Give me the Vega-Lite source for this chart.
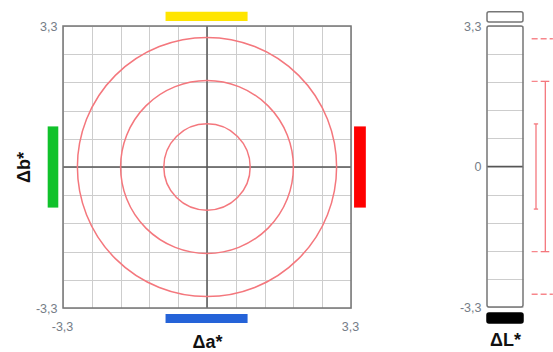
{
  "$schema": "https://vega.github.io/schema/vega-lite/v6.json",
  "padding": {"left": 15, "top": 10, "right": 0, "bottom": 0},
  "bounds": "flush",
  "spacing": 136,
  "config": {
    "font": "Liberation Sans",
    "axis": {
      "labelFont": "Liberation Sans",
      "labelFontSize": 12.5,
      "labelColor": "#767d87",
      "titleFont": "Liberation Sans",
      "titleFontSize": 18,
      "titleFontWeight": "bold",
      "titleColor": "#111111",
      "ticks": false,
      "domain": false,
      "gridColor": "#cdcdcd",
      "gridWidth": 1,
      "labelOverlap": false,
      "tickCount": 30
    }
  },
  "datasets": {
    "bars": [
      {"side": "+b", "x1": -0.95, "x2": 0.93, "y1": 3.417, "y2": 3.635},
      {"side": "-b", "x1": -0.95, "x2": 0.93, "y1": -3.44, "y2": -3.65},
      {"side": "-a", "x1": -3.408, "x2": -3.651, "y1": -0.95, "y2": 0.95},
      {"side": "+a", "x1": 3.37, "x2": 3.64, "y1": -0.95, "y2": 0.95}
    ],
    "zero": [{"v": 0}],
    "frame": [{"x1": -3.3, "x2": 3.3, "y1": -3.3, "y2": 3.3}],
    "circles": [
      {"cx": 0, "cy": 0, "r": 1},
      {"cx": 0, "cy": 0, "r": 2},
      {"cx": 0, "cy": 0, "r": 3}
    ],
    "boxes": [
      {"kind": "white", "x1": 0, "x2": 1, "y1": 3.394, "y2": 3.636},
      {"kind": "black", "x1": 0, "x2": 1, "y1": -3.441, "y2": -3.676}
    ],
    "lframe": [{"x1": 0, "x2": 1, "y1": -3.3, "y2": 3.3}],
    "ebars": [
      {"x": 1.361, "lo": -1, "hi": 1},
      {"x": 1.62, "lo": -2, "hi": 2}
    ],
    "caps": [
      {"a": 1.3, "b": 1.42, "y": 1},
      {"a": 1.3, "b": 1.42, "y": -1},
      {"a": 1.5, "b": 1.73, "y": 2},
      {"a": 1.5, "b": 1.73, "y": -2}
    ],
    "dashes": [
      {"a": 1.24, "b": 1.5, "y": 2},
      {"a": 1.24, "b": 1.5, "y": -2},
      {"a": 1.24, "b": 1.83, "y": 3},
      {"a": 1.24, "b": 1.83, "y": -3}
    ]
  },
  "hconcat": [
    {
      "width": 288,
      "height": 282,
      "view": {"stroke": null},
      "layer": [
        {
          "data": {"name": "bars"},
          "mark": {"type": "rect"},
          "encoding": {
            "x": {
              "field": "x1", "type": "quantitative",
              "scale": {"domain": [-3.3, 3.3], "nice": false, "zero": false},
              "axis": {
                "title": "Δa*",
                "values": [-3.3, -2.64, -1.98, -1.32, -0.66, 0, 0.66, 1.32, 1.98, 2.64, 3.3],
                "tickCount": 30,
                "labelExpr": "datum.value == 3.3 ? '3,3' : (datum.value == -3.3 ? '-3,3' : '')",
                "labelFlush": false,
                "labelPadding": 12,
                "labelOffset": -1,
                "titlePadding": 1,
                "grid": true
              }
            },
            "x2": {"field": "x2"},
            "y": {
              "field": "y1", "type": "quantitative",
              "scale": {"domain": [-3.3, 3.3], "nice": false, "zero": false},
              "axis": {
                "title": "Δb*",
                "values": [-3.3, -2.64, -1.98, -1.32, -0.66, 0, 0.66, 1.32, 1.98, 2.64, 3.3],
                "tickCount": 30,
                "labelExpr": "datum.value == 3.3 ? '3,3' : (datum.value == -3.3 ? '-3,3' : '')",
                "labelPadding": 6,
                "titlePadding": 2,
                "grid": true
              }
            },
            "y2": {"field": "y2"},
            "color": {
              "field": "side", "type": "nominal",
              "scale": {"domain": ["+b", "-b", "-a", "+a"], "range": ["#ffe500", "#2563d8", "#10c22b", "#ff0000"]},
              "legend": null
            }
          }
        },
        {
          "data": {"name": "zero"},
          "mark": {"type": "rule", "color": "#555555", "strokeWidth": 1.5},
          "encoding": {"x": {"field": "v", "type": "quantitative"}}
        },
        {
          "data": {"name": "zero"},
          "mark": {"type": "rule", "color": "#555555", "strokeWidth": 1.5},
          "encoding": {"y": {"field": "v", "type": "quantitative"}}
        },
        {
          "data": {"name": "frame"},
          "mark": {"type": "rect", "fill": null, "filled": false, "stroke": "#767676", "strokeWidth": 1.5},
          "encoding": {
            "x": {"field": "x1", "type": "quantitative"},
            "x2": {"field": "x2"},
            "y": {"field": "y1", "type": "quantitative"},
            "y2": {"field": "y2"}
          }
        },
        {
          "data": {"name": "circles"},
          "mark": {"type": "point", "shape": "circle", "filled": false, "stroke": "#f4777d", "strokeWidth": 1.5, "opacity": 1},
          "encoding": {
            "x": {"field": "cx", "type": "quantitative"},
            "y": {"field": "cy", "type": "quantitative"},
            "size": {
              "field": "r", "type": "quantitative",
              "scale": {"type": "pow", "exponent": 2, "domain": [0, 3.3], "range": [0, 81296]},
              "legend": null
            }
          }
        }
      ]
    },
    {
      "width": 36,
      "height": 281,
      "view": {"stroke": null},
      "layer": [
        {
          "data": {"name": "boxes"},
          "mark": {"type": "rect", "strokeWidth": 1.5, "cornerRadius": 2},
          "encoding": {
            "x": {
              "field": "x1", "type": "quantitative",
              "scale": {"domain": [0, 1], "nice": false, "zero": false},
              "axis": {"title": "ΔL*", "labels": false, "grid": false, "titlePadding": 24}
            },
            "x2": {"field": "x2"},
            "y": {
              "field": "y1", "type": "quantitative",
              "scale": {"domain": [-3.3, 3.3], "nice": false, "zero": false},
              "axis": {
                "title": null,
                "values": [-3.3, -2.64, -1.98, -1.32, -0.66, 0, 0.66, 1.32, 1.98, 2.64, 3.3],
                "tickCount": 30,
                "labelExpr": "datum.value == 3.3 ? '3,3' : (datum.value == -3.3 ? '-3,3' : (datum.value == 0 ? '0' : ''))",
                "labelPadding": 6,
                "grid": true
              }
            },
            "y2": {"field": "y2"},
            "fill": {
              "field": "kind", "type": "nominal",
              "scale": {"domain": ["white", "black"], "range": ["#ffffff", "#000000"]},
              "legend": null
            },
            "stroke": {
              "field": "kind", "type": "nominal",
              "scale": {"domain": ["white", "black"], "range": ["#767676", "#000000"]},
              "legend": null
            }
          }
        },
        {
          "data": {"name": "zero"},
          "mark": {"type": "rule", "color": "#555555", "strokeWidth": 1.5},
          "encoding": {"y": {"field": "v", "type": "quantitative"}}
        },
        {
          "data": {"name": "lframe"},
          "mark": {"type": "rect", "fill": null, "filled": false, "stroke": "#767676", "strokeWidth": 1.5, "cornerRadius": 2},
          "encoding": {
            "x": {"field": "x1", "type": "quantitative"},
            "x2": {"field": "x2"},
            "y": {"field": "y1", "type": "quantitative"},
            "y2": {"field": "y2"}
          }
        },
        {
          "data": {"name": "dashes"},
          "mark": {"type": "rule", "color": "#f7868b", "strokeWidth": 1.3, "strokeDash": [6, 3]},
          "encoding": {
            "x": {"field": "a", "type": "quantitative"},
            "x2": {"field": "b"},
            "y": {"field": "y", "type": "quantitative"}
          }
        },
        {
          "data": {"name": "ebars"},
          "mark": {"type": "rule", "color": "#f4777d", "strokeWidth": 1.3},
          "encoding": {
            "x": {"field": "x", "type": "quantitative"},
            "y": {"field": "lo", "type": "quantitative"},
            "y2": {"field": "hi"}
          }
        },
        {
          "data": {"name": "caps"},
          "mark": {"type": "rule", "color": "#f4777d", "strokeWidth": 1.3},
          "encoding": {
            "x": {"field": "a", "type": "quantitative"},
            "x2": {"field": "b"},
            "y": {"field": "y", "type": "quantitative"}
          }
        }
      ]
    }
  ]
}
